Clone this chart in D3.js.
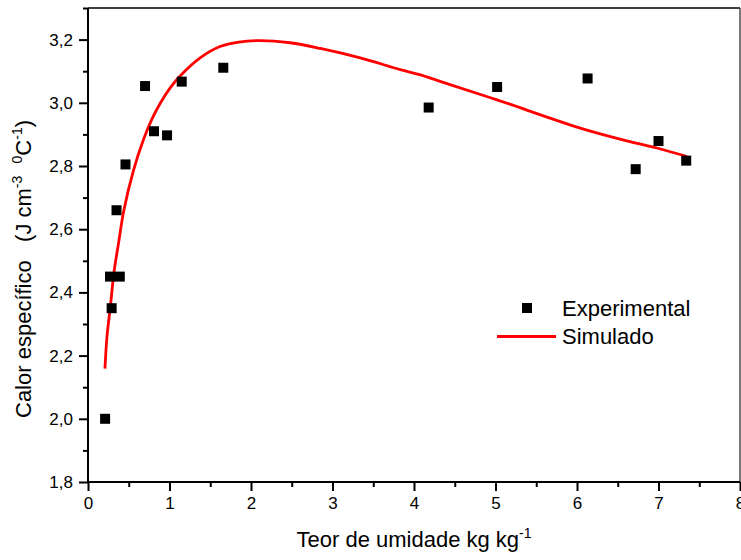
<!DOCTYPE html>
<html>
<head>
<meta charset="utf-8">
<script src="https://cdn.jsdelivr.net/npm/d3@7"></script>
<style>
  html, body { margin: 0; padding: 0; background: #fff; }
  svg { display: block; font-family: "Liberation Sans", Arial, sans-serif; }
</style>
</head>
<body>
<svg id="chart" width="741" height="560"></svg>
<script>
// Experimental data
const moisture = [0.21, 0.29, 0.27, 0.39, 0.35, 0.46, 0.70, 0.81, 0.97, 1.15, 1.66, 4.18, 5.02, 6.13, 6.72, 7.00, 7.34];
const specificHeat = [2.00, 2.35, 2.45, 2.45, 2.66, 2.805, 3.053, 2.91, 2.897, 3.067, 3.111, 2.985, 3.050, 3.077, 2.790, 2.879, 2.817];

// Simulated curve
const simMoisture = [0.208, 0.233, 0.274, 0.32, 0.375, 0.44, 0.56, 0.68, 0.78, 0.89, 1.01, 1.13, 1.38, 1.62, 1.85, 2.11, 2.48, 2.85, 3.34, 3.83, 4.07, 4.32, 5.01, 6.04, 6.65, 6.98, 7.35];
const simHeat = [2.159, 2.26, 2.354, 2.466, 2.556, 2.66, 2.788, 2.883, 2.946, 3.000, 3.048, 3.085, 3.143, 3.178, 3.192, 3.197, 3.190, 3.172, 3.142, 3.105, 3.089, 3.068, 3.010, 2.92, 2.877, 2.857, 2.83];

// Ticks
const xTicks = [0, 1, 2, 3, 4, 5, 6, 7, 8];
const xTickLabels = ["0", "1", "2", "3", "4", "5", "6", "7", "8"];
const yTicks = [1.8, 2.0, 2.2, 2.4, 2.6, 2.8, 3.0, 3.2];
const yTickLabels = ["1,8", "2,0", "2,2", "2,4", "2,6", "2,8", "3,0", "3,2"];
const xMinor = [0.5, 1.5, 2.5, 3.5, 4.5, 5.5, 6.5, 7.5];
const yMinor = [1.9, 2.1, 2.3, 2.5, 2.7, 2.9, 3.1, 3.3];

const seriesNames = ["Experimental", "Simulado"];

const svg = d3.select("#chart");
const L = 88, R = 740, T = 8, B = 482;

const x = d3.scaleLinear().domain([0, 8]).range([L, R]);
const y = d3.scaleLinear().domain([1.8, 3.3]).range([B, T]);

// Frame (top & right)
svg.append("line").attr("x1", L).attr("x2", R).attr("y1", T).attr("y2", T)
  .attr("stroke", "#000").attr("stroke-width", 1.3);
svg.append("line").attr("x1", R).attr("x2", R).attr("y1", T).attr("y2", B)
  .attr("stroke", "#333").attr("stroke-width", 1.3);

// X axis
const xAxis = d3.axisBottom(x).tickValues(xTicks)
  .tickFormat((d, i) => xTickLabels[i]).tickSize(9).tickPadding(6).tickSizeOuter(0);
const gx = svg.append("g").attr("transform", `translate(0,${B})`).call(xAxis);
gx.select(".domain").attr("stroke-width", 2).attr("d", `M${L - 1},0H${R}`);
gx.selectAll(".tick line").attr("stroke-width", 2);
gx.selectAll(".tick text").attr("font-size", 17).attr("fill", "#000")
  .attr("font-family", "Liberation Sans, Arial, sans-serif");
const xAxisMinor = d3.axisBottom(x).tickValues(xMinor).tickFormat("").tickSize(5).tickSizeOuter(0);
const gxm = svg.append("g").attr("transform", `translate(0,${B})`).call(xAxisMinor);
gxm.select(".domain").remove();
gxm.selectAll(".tick line").attr("stroke-width", 2);

// Y axis
const yAxis = d3.axisLeft(y).tickValues(yTicks)
  .tickFormat((d, i) => yTickLabels[i]).tickSize(9).tickPadding(6).tickSizeOuter(0);
const gy = svg.append("g").attr("transform", `translate(${L},0)`).call(yAxis);
gy.select(".domain").attr("stroke-width", 2).attr("d", `M0,${B + 1}V${T}`);
gy.selectAll(".tick line").attr("stroke-width", 2);
gy.selectAll(".tick text").attr("font-size", 17).attr("fill", "#000")
  .attr("font-family", "Liberation Sans, Arial, sans-serif");
const yAxisMinor = d3.axisLeft(y).tickValues(yMinor).tickFormat("").tickSize(5).tickSizeOuter(0);
const gym = svg.append("g").attr("transform", `translate(${L},0)`).call(yAxisMinor);
gym.select(".domain").remove();
gym.selectAll(".tick line").attr("stroke-width", 2);

// Simulated line
const line = d3.line()
  .x((d, i) => x(simMoisture[i]))
  .y((d, i) => y(simHeat[i]))
  .curve(d3.curveCatmullRom.alpha(0.5));
svg.append("path").datum(simHeat).attr("d", line)
  .attr("fill", "none").attr("stroke", "#ff0000").attr("stroke-width", 2.8);

// Experimental points
const sq = 10;
svg.append("g").selectAll("rect").data(specificHeat).join("rect")
  .attr("x", (d, i) => x(moisture[i]) - sq / 2)
  .attr("y", d => y(d) - sq / 2)
  .attr("width", sq).attr("height", sq).attr("fill", "#000");

// Legend
const lg = svg.append("g");
lg.append("rect").attr("x", 522).attr("y", 303).attr("width", sq).attr("height", sq).attr("fill", "#000");
lg.append("text").attr("x", 562).attr("y", 315.5).attr("font-size", 22).attr("fill", "#000").text(seriesNames[0]);
lg.append("line").attr("x1", 497).attr("x2", 556).attr("y1", 336.5).attr("y2", 336.5)
  .attr("stroke", "#ff0000").attr("stroke-width", 2.8);
lg.append("text").attr("x", 562).attr("y", 343.5).attr("font-size", 22).attr("fill", "#000").text(seriesNames[1]);

// X title
const xt = svg.append("text").attr("x", 414).attr("y", 547).attr("text-anchor", "middle")
  .attr("font-size", 22).attr("fill", "#000");
xt.append("tspan").text("Teor de umidade kg kg");
xt.append("tspan").attr("font-size", 14).attr("dy", -9).text("-1");

// Y title
const yt = svg.append("text").attr("transform", "translate(31,418) rotate(-90)")
  .attr("font-size", 22).attr("fill", "#000").style("white-space", "pre");
yt.append("tspan").text("Calor específico   (J cm");
yt.append("tspan").attr("font-size", 14).attr("dy", -9).text("-3");
yt.append("tspan").attr("dy", 9).text("  ");
yt.append("tspan").attr("font-size", 14).attr("dy", -9).text("0");
yt.append("tspan").attr("dy", 9).text("C");
yt.append("tspan").attr("font-size", 14).attr("dy", -9).text("-1");
yt.append("tspan").attr("dy", 9).text(")");
</script>
</body>
</html>
